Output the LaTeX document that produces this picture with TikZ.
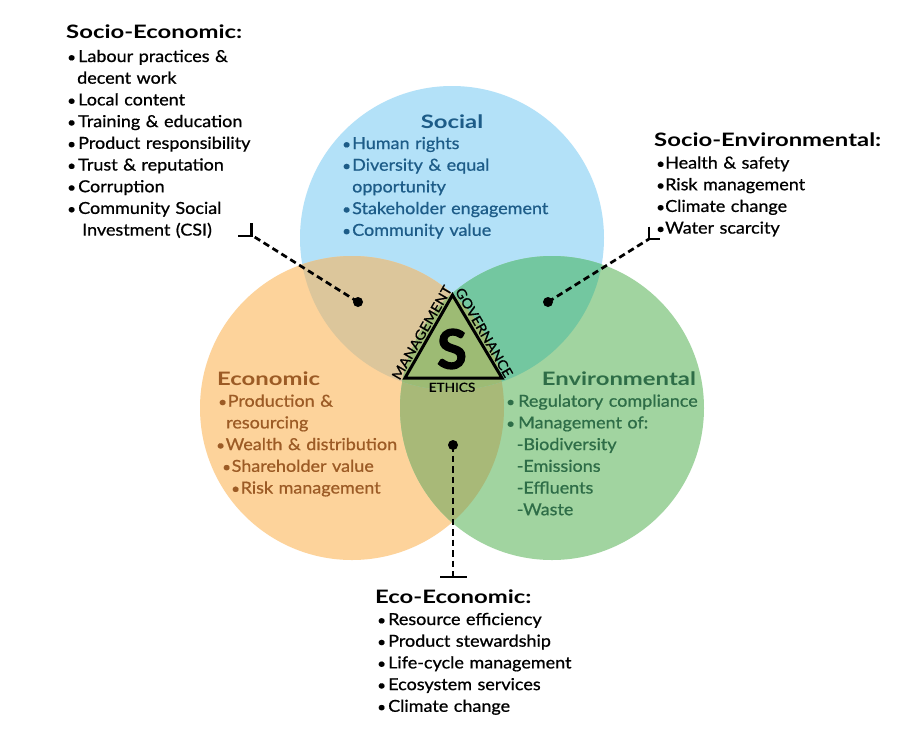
\documentclass[tikz,border=0pt]{standalone}
\usepackage{fontspec}
\setmainfont{Lato}
\newfontfamily\ttlfont[FakeStretch=1.29]{Lato Bold}
\newfontfamily\itemfont[FakeStretch=1.09, FakeBold=0.8]{Lato}
\newfontfamily\bigsfont[FakeBold=2.5]{Lato Bold}
\definecolor{cblue}{HTML}{B3E1F8}
\definecolor{corange}{HTML}{FDD39B}
\definecolor{cgreen}{HTML}{A1D4A0}
\definecolor{ctan}{HTML}{DCC69B}
\definecolor{cmint}{HTML}{73C7A0}
\definecolor{colive}{HTML}{A8B978}
\definecolor{ctriple}{HTML}{9DBB74}
\definecolor{tsocial}{HTML}{1D5C88}
\definecolor{tecon}{HTML}{9C5B25}
\definecolor{tenv}{HTML}{2E6D47}
\newcommand\bl[1][10pt]{\makebox[#1][l]{\scalebox{0.85}{•}}}
\begin{document}
\begin{tikzpicture}[x=1pt,y=-1pt,
  item/.style={anchor=base west, inner sep=0pt, text width=260pt, align=left,
     font=\fontsize{16.5}{21.7}\selectfont\itemfont},
  ttl/.style={anchor=base west, inner sep=0pt, font=\fontsize{18.5}{22}\selectfont\ttlfont},
  tri/.style={inner sep=0pt, font=\fontsize{13.5}{14}\selectfont\itemfont},
  dashline/.style={line width=2.7pt, dash pattern=on 6.5pt off 4pt},
  endbar/.style={line width=2.7pt},
  dotm/.style={circle, fill=black, inner sep=0pt, minimum size=10pt}
]
\useasboundingbox (0,0) rectangle (903,732);
\fill[white] (0,0) rectangle (903,732);
% circle centres
\coordinate (cS) at (452,238);
\coordinate (cE) at (352,408);
\coordinate (cV) at (552,408);
\def\R{152pt}
\fill[cblue] (cS) circle[radius=\R];
\fill[corange] (cE) circle[radius=\R];
\fill[cgreen] (cV) circle[radius=\R];
\begin{scope}
  \clip (cE) circle[radius=\R];
  \fill[colive] (cV) circle[radius=\R];
\end{scope}
\begin{scope}
  \clip (cS) circle[radius=\R];
  \fill[ctan] (cE) circle[radius=\R];
  \fill[cmint] (cV) circle[radius=\R];
  \clip (cE) circle[radius=\R];
  \fill[ctriple] (cV) circle[radius=\R];
\end{scope}
% triangle
\coordinate (ta) at (452.5,295);
\coordinate (tl) at (405,378);
\coordinate (tr) at (502,378);
\filldraw[fill=ctriple, draw=black, line width=3pt, line join=miter] (ta) -- (tl) -- (tr) -- cycle;
\node[inner sep=0pt, font=\fontsize{54}{54}\selectfont\bigsfont] (sbig) at (452,349) {S};
\node[tri, anchor=north, font=\fontsize{12.5}{13}\selectfont\itemfont] (ethics) at (452,382.5) {ETHICS};
\node[tri, rotate=60, anchor=south] (mgmt) at (426.3,335.1) {MANAGEMENT};
\node[tri, rotate=-60, anchor=south] (gov) at (479.7,335.1) {GOVERNANCE};

% Socio-Economic
\node[ttl] (seT) at (66,38.3) {Socio-Economic:};
\node[item] (seL) at (67,62) {\bl[11pt]Labour practices \&\\
\hspace*{10pt}decent work\\
\bl[11pt]Local content\\
\bl[11pt]Training \& education\\
\bl[11pt]Product responsibility\\
\bl[11pt]Trust \& reputation\\
\bl[11pt]Corruption\\
\bl[11pt]Community Social\\
\hspace*{15pt}Investment (CSI)};

% Social
\node[anchor=base, inner sep=0pt, font=\fontsize{18.5}{22}\selectfont\ttlfont, text=tsocial] (soT) at (452,128) {Social};
\node[item, text=tsocial] (soL) at (342,149) {\bl Human rights\\
\bl Diversity \& equal\\
\hspace*{10pt}opportunity\\
\bl Stakeholder engagement\\
\bl Community value};

% Socio-Environmental
\node[ttl] (svT) at (654,146) {Socio-Environmental:};
\node[item] (svL) at (656,168.5) {\bl[9pt]Health \& safety\\
\bl[9pt]Risk management\\
\bl[9pt]Climate change\\
\bl[9pt]Water scarcity};

% Economic
\node[ttl, text=tecon] (ecT) at (217,385) {Economic};
\node[item, text=tecon] (ecL) at (216,406.7) {\hspace*{2pt}\bl[9.5pt]Production \&\\
\hspace*{10pt}resourcing\\
\bl[9.5pt]Wealth \& distribution\\
\hspace*{6pt}\bl[9.5pt]Shareholder value\\
\hspace*{15pt}\bl[9.5pt]Risk management};

% Environmental
\node[ttl, text=tenv] (evT) at (541.7,385) {Environmental};
\node[item, text=tenv] (evL) at (506,406.7) {\bl[12pt]Regulatory compliance\\
\bl[12pt]Management of:\\
\hspace*{10.5pt}-Biodiversity\\
\hspace*{10.5pt}-Emissions\\
\hspace*{10.5pt}-Effluents\\
\hspace*{10.5pt}-Waste};

% Eco-Economic
\node[ttl] (eeT) at (375,603) {Eco-Economic:};
\node[item] (eeL) at (377,625) {\bl[11pt]Resource efficiency\\
\bl[11pt]Product stewardship\\
\bl[11pt]Life-cycle management\\
\bl[11pt]Ecosystem services\\
\bl[11pt]Climate change};

% connectors
\node[dotm] (d1) at (358,302) {};
\node[dotm] (d2) at (548,302) {};
\node[dotm] (d3) at (453,445) {};
\coordinate (e1) at (253,236);
\coordinate (e1a) at (238,236);
\coordinate (e1s) at (251.5,222.5);
\coordinate (e2) at (649,239);
\coordinate (e2a) at (660,239);
\coordinate (e2s) at (649,226.5);
\coordinate (e3) at (453,577);
\coordinate (e3a) at (440,577);
\coordinate (e3b) at (467,577);
\draw[dashline] (d1.center) -- (e1);
\draw[dashline] (d2.center) -- (e2);
\draw[dashline] (d3.center) -- (e3);
\draw[endbar] (e1a) -- (e1 -| e1s) -- (e1s);
\draw[endbar] (e2) -- (e2a);
\draw[endbar] (e2s) -- (e2);
\draw[endbar] (e3a) -- (e3b);
\end{tikzpicture}
\end{document}
